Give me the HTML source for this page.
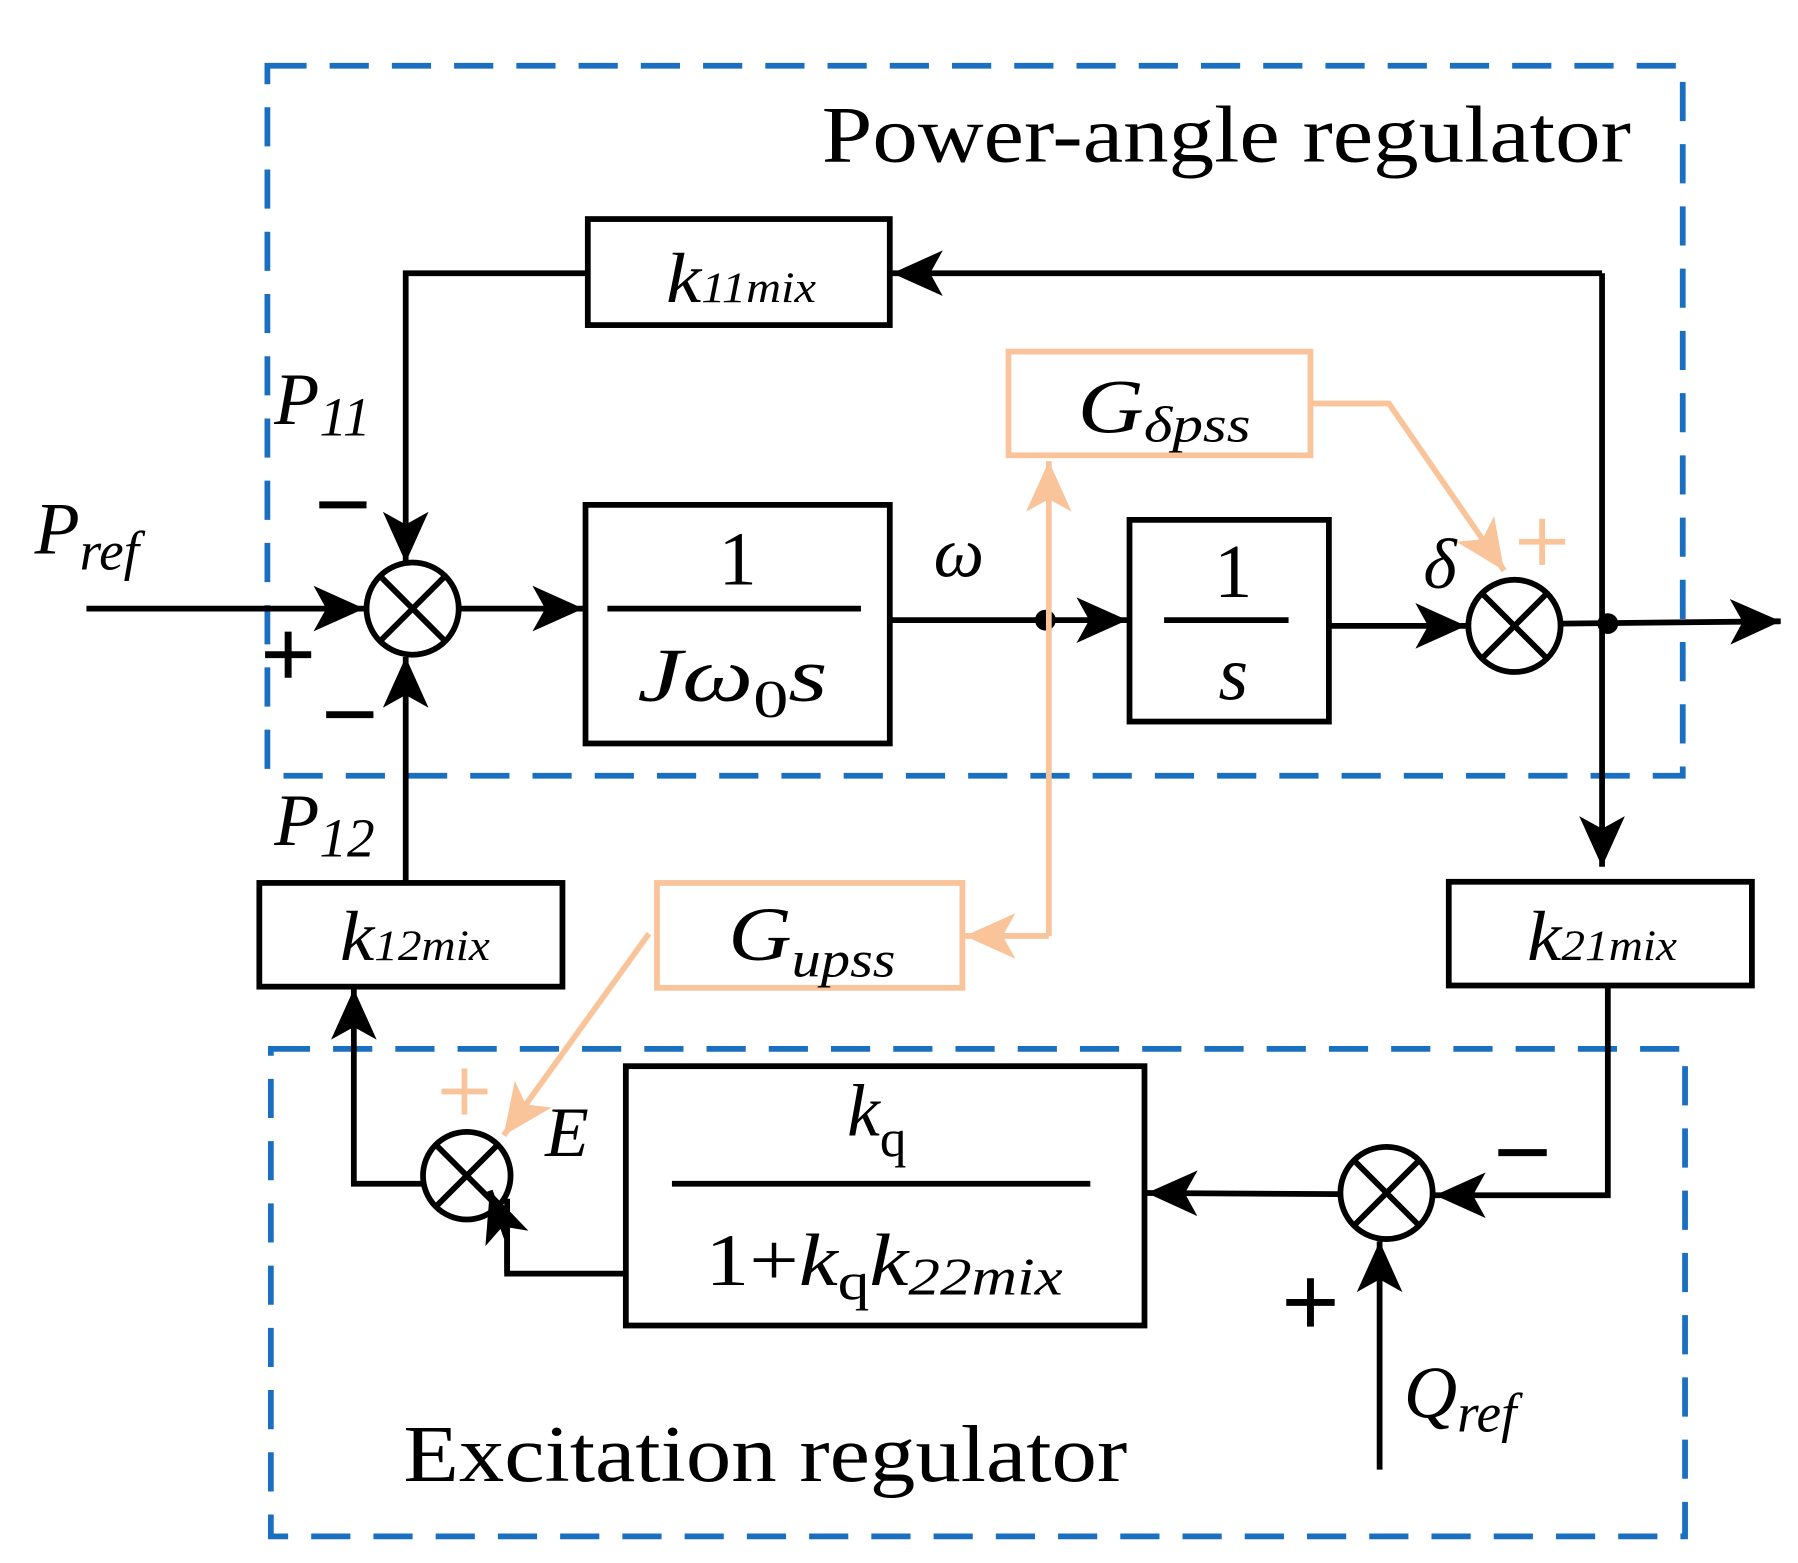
<!DOCTYPE html>
<html><head><meta charset="utf-8"><style>
html,body{margin:0;padding:0;background:#fff;}
svg{display:block;}
text{font-family:"Liberation Serif",serif;fill:#000;}
.i{font-style:italic;}
</style></head><body>
<svg width="1798" height="1563" viewBox="0 0 1560 1356" xmlns="http://www.w3.org/2000/svg">
<defs>
<marker id="ab" viewBox="0 0 10 10" refX="10" refY="5" markerWidth="44" markerHeight="44" markerUnits="userSpaceOnUse" orient="auto"><path d="M0,0.5 L10,5 L0,9.5 L2.5,5 z" fill="#000"/></marker>
<marker id="ao" viewBox="0 0 10 10" refX="10" refY="5" markerWidth="44" markerHeight="44" markerUnits="userSpaceOnUse" orient="auto"><path d="M0,0.5 L10,5 L0,9.5 L2.5,5 z" fill="#f9c49a"/></marker>
</defs>
<g fill="none" stroke="#1a6fc0" stroke-width="5" stroke-dasharray="34,20">
<rect x="232" y="57" width="1228" height="616"/>
<rect x="235" y="910" width="1227" height="423"/>
</g>
<text x="713" y="140" font-size="70" textLength="702" lengthAdjust="spacingAndGlyphs">Power-angle regulator</text>
<text x="350" y="1285" font-size="70" textLength="628" lengthAdjust="spacingAndGlyphs">Excitation regulator</text>
<g fill="none" stroke="#000" stroke-width="5">
<rect x="510" y="190" width="262" height="92"/>
<rect x="508" y="438" width="264" height="207"/>
<rect x="980" y="451" width="173" height="175"/>
<rect x="1257" y="765" width="263" height="90"/>
<rect x="543" y="925" width="450" height="225"/>
<rect x="225" y="766" width="263" height="90"/>
<line x1="527" y1="528" x2="747" y2="528"/>
<line x1="1010" y1="538" x2="1118" y2="538"/>
<line x1="583" y1="1027" x2="946" y2="1027"/>
<circle cx="358" cy="528" r="40"/>
<circle cx="1314" cy="543" r="40"/>
<circle cx="1203" cy="1035" r="40"/>
<circle cx="405" cy="1020" r="38"/>
<path d="M330,500 L386,556 M386,500 L330,556"/>
<path d="M1286,515 L1342,571 M1342,515 L1286,571"/>
<path d="M1175,1007 L1231,1063 M1231,1007 L1175,1063"/>
<path d="M378,993 L432,1047 M432,993 L378,1047"/>
<path d="M510,237 H352 V488" marker-end="url(#ab)"/>
<path d="M1390,237 H774" marker-end="url(#ab)"/>
<path d="M75,528 H316" marker-end="url(#ab)"/>
<path d="M398,528 H506" marker-end="url(#ab)"/>
<path d="M772,538 H978" marker-end="url(#ab)"/>
<path d="M1153,543 H1272" marker-end="url(#ab)"/>
<path d="M1354,541 L1545,539" marker-end="url(#ab)"/>
<path d="M1390,237 V752" marker-end="url(#ab)"/>
<path d="M1395,855 V1037 H1245" marker-end="url(#ab)"/>
<path d="M1197,1275 V1077" marker-end="url(#ab)"/>
<path d="M1163,1036 L995,1035" marker-end="url(#ab)"/>
<path d="M543,1105 H440 V1040" />
<path d="M440,1105 L440,1075 L425,1033" marker-end="url(#ab)"/>
<path d="M367,1027 H307 V858" marker-end="url(#ab)"/>
<path d="M352,766 V570" marker-end="url(#ab)"/>
</g>
<circle cx="907" cy="538" r="9" fill="#000"/>
<circle cx="1395" cy="541" r="9" fill="#000"/>
<g fill="none" stroke="#f9c49a" stroke-width="5">
<rect x="875" y="305" width="262" height="90"/>
<rect x="570" y="766" width="265" height="91"/>
<path d="M1137,350 H1205 L1305,495" marker-end="url(#ao)"/>
<path d="M910,812 V400" marker-end="url(#ao)"/>
<path d="M910,812 H837" marker-end="url(#ao)"/>
<path d="M563,810 L437,985" marker-end="url(#ao)"/>
<path d="M1318,470 H1358 M1338,450 V490"/>
<path d="M383,947 H423 M403,927 V967"/>
</g>
<g stroke="#000" stroke-width="6">
<path d="M277,438 H318"/>
<path d="M283,620 H324"/>
<path d="M230,568 H270 M250,548 V588"/>
<path d="M1300,1000 H1342"/>
<path d="M1116,1130 H1158 M1137,1109 V1151"/>
</g>
<text x="578" y="262" font-size="62" class="i" textLength="130" lengthAdjust="spacingAndGlyphs">k<tspan font-size="38">11mix</tspan></text>
<text x="238" y="368" font-size="64" class="i">P<tspan font-size="48" dy="10">11</tspan></text>
<text x="30" y="480" font-size="64" class="i">P<tspan font-size="48" dy="14">ref</tspan></text>
<text x="238" y="733" font-size="64" class="i">P<tspan font-size="48" dy="10">12</tspan></text>
<text x="640" y="507" font-size="66" text-anchor="middle">1</text>
<text x="553" y="608" font-size="66" class="i" textLength="165" lengthAdjust="spacingAndGlyphs">Jω<tspan font-size="46" font-style="normal" dy="14">0</tspan><tspan dy="-14">s</tspan></text>
<text x="810" y="500" font-size="62" class="i">ω</text>
<text x="1070" y="518" font-size="66" text-anchor="middle">1</text>
<text x="1070" y="607" font-size="66" text-anchor="middle" class="i">s</text>
<text x="1235" y="510" font-size="62" class="i">δ</text>
<text x="935" y="375" font-size="66" class="i" textLength="150" lengthAdjust="spacingAndGlyphs">G<tspan font-size="44" dy="8">δpss</tspan></text>
<text x="632" y="833" font-size="66" class="i" textLength="145" lengthAdjust="spacingAndGlyphs">G<tspan font-size="44" dy="14">upss</tspan></text>
<text x="295" y="833" font-size="62" class="i" textLength="130" lengthAdjust="spacingAndGlyphs">k<tspan font-size="38">12mix</tspan></text>
<text x="1325" y="833" font-size="62" class="i" textLength="130" lengthAdjust="spacingAndGlyphs">k<tspan font-size="38">21mix</tspan></text>
<text x="473" y="1003" font-size="62" class="i">E</text>
<text x="735" y="985" font-size="64" class="i">k<tspan font-size="46" font-style="normal" dy="18">q</tspan></text>
<text x="612" y="1115" font-size="64" textLength="310" lengthAdjust="spacingAndGlyphs">1+<tspan class="i">k</tspan><tspan font-size="46" dy="12">q</tspan><tspan class="i" dy="-12">k</tspan><tspan class="i" font-size="46" dy="8">22mix</tspan></text>
<text x="1218" y="1230" font-size="64" class="i">Q<tspan font-size="48" dy="12">ref</tspan></text>
</svg>
</body></html>
